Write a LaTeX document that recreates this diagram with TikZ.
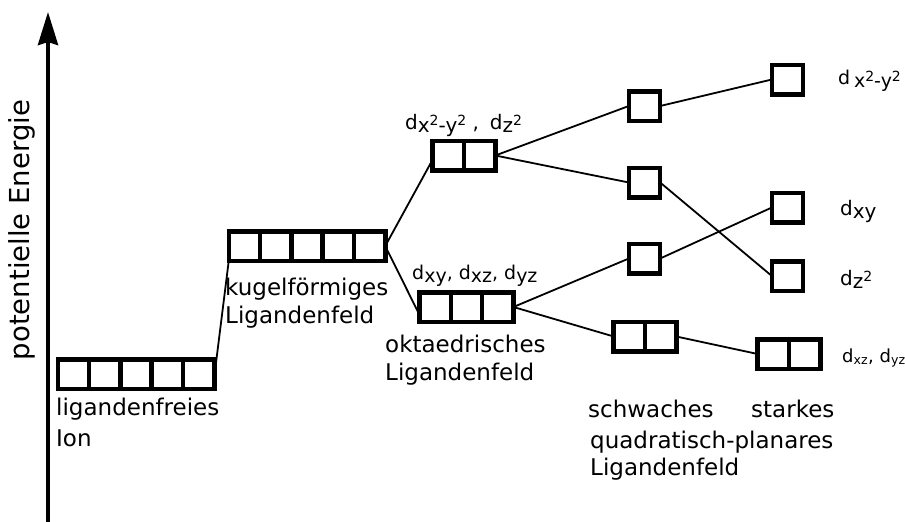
\documentclass[tikz,border=0pt]{standalone}
\usepackage{fontspec}
\setmainfont{DejaVu Sans}
\usetikzlibrary{arrows.meta,calc}
\newcommand\lo[1]{\raisebox{-3pt}{#1}}
\newcommand\sqq{\raisebox{0.55ex}{\fontsize{14}{14}\selectfont 2}}
\newlength\bw
\setlength\bw{31.3pt}
\begin{document}
\begin{tikzpicture}[x=1pt,y=-1pt,
  orb/.style={draw, line width=4.5pt, inner sep=0pt, outer sep=0pt, minimum height=29.5pt},
  divl/.style={line width=4.5pt},
  link/.style={line width=1.8pt},
  lab/.style={anchor=base west, inner sep=0pt, font=\fontsize{23}{27}\selectfont},
  olab/.style={anchor=base west, inner sep=0pt, font=\fontsize{20}{24}\selectfont}]
\useasboundingbox (0,0) rectangle (905,522);
% axis
\coordinate (ab) at (48,522);
\coordinate (at) at (48,12);
\draw[line width=4pt, -{Stealth[length=33pt,width=20pt,inset=3pt]}] (ab) -- (at);
\node[rotate=90, inner sep=0pt, font=\fontsize{27.5}{30}\selectfont] (ylab) at (22,230) {potentielle Energie};
% orbital rows
\node[orb, minimum width=5\bw] (free) at (136,374) {};
\node[orb, minimum width=5\bw] (kugel) at (307,246) {};
\node[orb, minimum width=2\bw] (eg) at (464,155.5) {};
\node[orb, minimum width=3\bw] (t2g) at (466.5,307) {};
\node[orb, minimum width=\bw] (w1) at (644.5,106) {};
\node[orb, minimum width=\bw] (w2) at (644.5,182.5) {};
\node[orb, minimum width=\bw] (w3) at (644.5,258.5) {};
\node[orb, minimum width=2\bw] (wp) at (645,336.5) {};
\node[orb, minimum width=\bw] (s1) at (787.5,79.5) {};
\node[orb, minimum width=\bw] (s2) at (787.5,207.5) {};
\node[orb, minimum width=\bw] (s3) at (787.5,276) {};
\node[orb, minimum width=2\bw] (sp) at (789,354) {};
% dividers
\foreach \k in {1,2,3,4}{
  \draw[divl] ($(free.south west)+(\k\bw,0)$) -- ($(free.north west)+(\k\bw,0)$);
  \draw[divl] ($(kugel.south west)+(\k\bw,0)$) -- ($(kugel.north west)+(\k\bw,0)$);
}
\foreach \k in {1,2}{
  \draw[divl] ($(t2g.south west)+(\k\bw,0)$) -- ($(t2g.north west)+(\k\bw,0)$);
}
\draw[divl] (eg.south) -- (eg.north);
\draw[divl] (wp.south) -- (wp.north);
\draw[divl] (sp.south) -- (sp.north);
% connectors
\draw[link] ($(free.east)+(0,3)$) -- (kugel.south west);
\draw[link] (kugel.east) -- ($(eg.west)+(0,4)$);
\draw[link] (kugel.east) -- ($(t2g.west)+(0,8)$);
\draw[link] (eg.east) -- (w1.west);
\draw[link] (eg.east) -- (w2.west);
\draw[link] (t2g.east) -- (w3.west);
\draw[link] (t2g.east) -- (wp.west);
\draw[link] (w1.east) -- (s1.west);
\draw[link] (w2.east) -- (s3.west);
\draw[link] (w3.east) -- (s2.west);
\draw[link] (wp.east) -- (sp.west);
% labels
\node[lab] (l1a) at (56,415) {ligandenfreies};
\node[lab] (l1b) at (56,446) {Ion};
\node[lab] (l2a) at (225,295) {kugelförmiges};
\node[lab] (l2b) at (225,323) {Ligandenfeld};
\node[lab] (l3a) at (385,352) {oktaedrisches};
\node[lab] (l3b) at (385,380) {Ligandenfeld};
\node[lab] (l4a) at (588,417) {schwaches};
\node[lab] (l4b) at (751,417) {starkes};
\node[lab] (l4c) at (590,448) {quadratisch-planares};
\node[lab] (l4d) at (590,475) {Ligandenfeld};
% orbital labels
\node[olab] (egl) at (405,129) {d\lo{x\sqq-y\sqq} ,\hspace{0.55em}d\lo{z\sqq}};
\node[olab, font=\fontsize{19}{23}\selectfont] (t2l) at (412,279) {d\lo{xy}, d\lo{xz}, d\lo{yz}};
\node[olab, font=\fontsize{19}{23}\selectfont] (r1) at (838,84) {d\hspace{0.2em}\lo{x\sqq-y\sqq}};
\node[olab] (r2) at (840,215) {d\lo{xy}};
\node[olab] (r3) at (840,285) {d\lo{z\sqq}};
\node[olab, font=\fontsize{18}{20}\selectfont] (r4) at (842,362) {d\textsubscript{xz}, d\textsubscript{yz}};
\end{tikzpicture}
\end{document}
